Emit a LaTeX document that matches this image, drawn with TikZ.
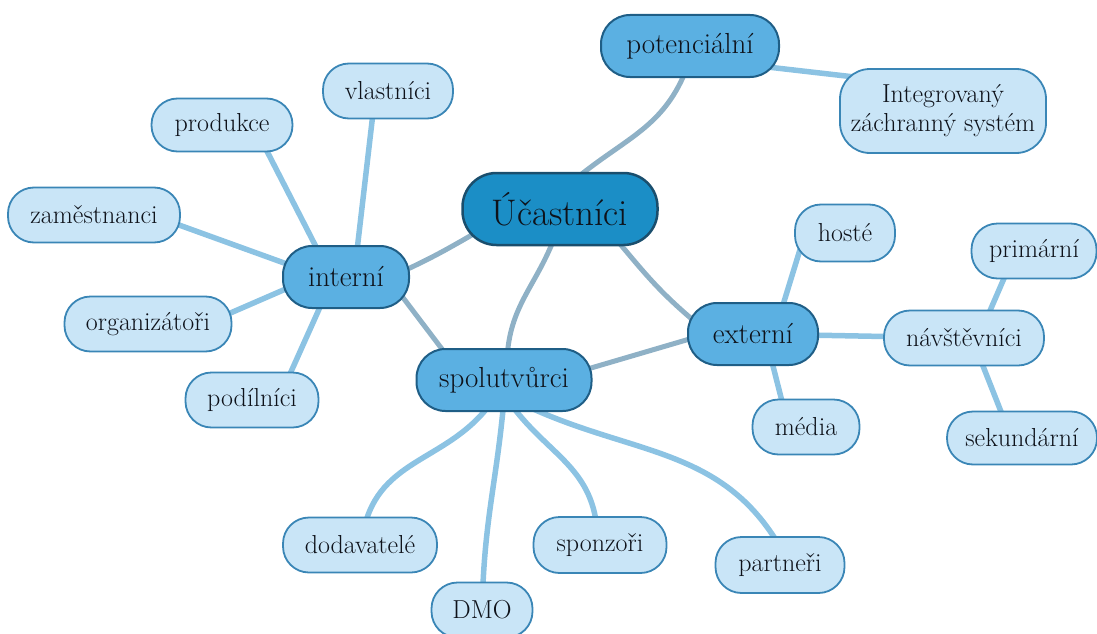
\documentclass[tikz,border=0pt]{standalone}
\usepackage{tikz}
\usetikzlibrary{backgrounds}
\definecolor{rootfill}{HTML}{1B8EC6}
\definecolor{rootdraw}{HTML}{1A4E6D}
\definecolor{midfill}{HTML}{5BB0E2}
\definecolor{middraw}{HTML}{1F5E86}
\definecolor{leaffill}{HTML}{C9E5F7}
\definecolor{leafdraw}{HTML}{3A86B6}
\definecolor{trunkcol}{HTML}{8FB1C6}
\definecolor{twigcol}{HTML}{8CC3E3}
\definecolor{inkcol}{HTML}{0E121A}
\tikzstyle{root} = [rectangle, draw=rootdraw, fill=rootfill, line width=2.5pt, rounded corners=34pt, minimum height=72pt, text=inkcol, font=\fontsize{37}{42}\selectfont]
\tikzstyle{mid} = [rectangle, draw=middraw, fill=midfill, line width=2pt, rounded corners=29pt, minimum height=62pt, text=inkcol, font=\fontsize{29}{33}\selectfont]
\tikzstyle{leaf} = [rectangle, draw=leafdraw, fill=leaffill, line width=1.8pt, rounded corners=26pt, minimum height=55pt, text=inkcol, font=\fontsize{26}{29}\selectfont]
\tikzstyle{trunk} = [draw=trunkcol, line width=5pt, shorten <=-14pt, shorten >=-14pt]
\tikzstyle{twig} = [draw=twigcol, line width=5.5pt, shorten <=-14pt, shorten >=-14pt]

\begin{document}
\begin{tikzpicture}[x=1pt, y=-1pt]

            \useasboundingbox (0,0) rectangle (1097,634);

            %% center and first level

            \node (ucast) [root, minimum width=195pt] at (560,209) {Účastníci};
            \node (potenc) [mid, minimum width=178pt] at (690,46) {potenciální};
            \node (interni) [mid, minimum width=126pt] at (346,277) {interní};
            \node (spolu) [mid, minimum width=175pt] at (504,380) {spolutvůrci};
            \node (externi) [mid, minimum width=130pt] at (753,334) {externí};

            %% leaves

            \node (izs) [leaf, minimum width=206pt, minimum height=84pt, rounded corners=30pt, align=center] at (943,111) {Integrovaný\\záchranný systém};

            \node (zamest) [leaf, minimum width=172pt] at (94,215) {zaměstnanci};
            \node (organiz) [leaf, minimum width=167pt] at (148,324) {organizátoři};
            \node (podil) [leaf, minimum width=133pt] at (252,400) {podílníci};
            \node (produkce) [leaf, minimum width=141pt, minimum height=53pt] at (222,125) {produkce};
            \node (vlastnici) [leaf, minimum width=130pt] at (388,91) {vlastníci};

            \node (hoste) [leaf, minimum width=100pt, minimum height=57pt] at (845,233) {hosté};
            \node (media) [leaf, minimum width=107pt] at (806,427) {média};
            \node (navstev) [leaf, minimum width=160pt] at (964,338) {návštěvníci};
            \node (primarni) [leaf, minimum width=125pt] at (1034,251) {primární};
            \node (sekund) [leaf, minimum width=150pt, minimum height=53pt] at (1022,438) {sekundární};

            \node (dodav) [leaf, minimum width=154pt] at (360,545) {dodavatelé};
            \node (dmo) [leaf, minimum width=101pt] at (482,610) {DMO};
            \node (sponz) [leaf, minimum width=133pt, minimum height=56pt] at (600,545) {sponzoři};
            \node (partneri) [leaf, minimum width=129pt, minimum height=56pt] at (780,565) {partneři};

            %% connectors

            \begin{scope}[on background layer]
            \draw[trunk] (ucast.57) to[out=40, in=-110] (potenc.258);
            \draw[trunk] (ucast.198) to[out=210, in=25] (interni.8);
            \draw[trunk] (ucast.257) to[out=250, in=88] (spolu.84);
            \draw[trunk] (ucast.-31) to[out=-50, in=140] (externi.164);
            \draw[trunk] (interni.-25) -- (spolu.153);
            \draw[trunk] (spolu.8) -- (externi.185);

            \draw[twig] (potenc.-14) -- (izs.161);

            \draw[twig] (interni.134) -- (produkce.-31);
            \draw[twig] (interni.70) -- (vlastnici.241);
            \draw[twig] (interni.167) -- (zamest.-7);
            \draw[twig] (interni.192) -- (organiz.8);
            \draw[twig] (interni.230) -- (podil.36);

            \draw[twig] (externi.46) -- (hoste.211);
            \draw[twig] (externi.-58) -- (media.131);
            \draw[twig] (externi) -- (navstev);
            \draw[twig] (navstev.47) -- (primarni.223);
            \draw[twig] (navstev.-56) -- (sekund.128);

            \draw[twig] (spolu.239) to[out=235, in=78] (dodav.77);
            \draw[twig] (spolu.268) to[out=265, in=88] (dmo.88);
            \draw[twig] (spolu.-69) to[out=-55, in=95] (sponz.98);
            \draw[twig] (spolu.-42) to[out=-25, in=120] (partneri.102);
            \end{scope}

        \end{tikzpicture}
\end{document}
